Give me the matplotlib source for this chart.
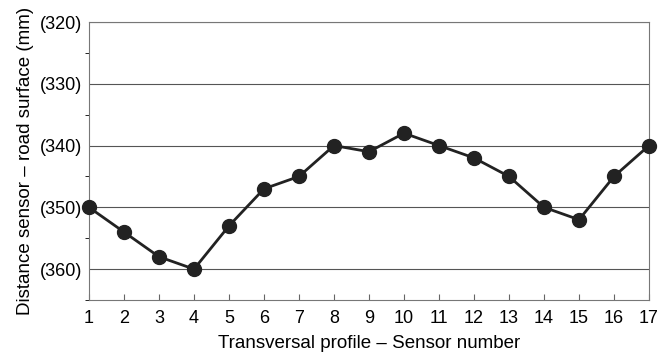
import matplotlib
matplotlib.use("Agg")
import matplotlib.pyplot as plt
from matplotlib.ticker import FuncFormatter, MultipleLocator

sensors = list(range(1, 18))
distance = [-350, -354, -358, -360, -353, -347, -345, -340, -341, -338,
            -340, -342, -345, -350, -352, -345, -340]
y_ticks = [-320, -330, -340, -350, -360]

plt.rcParams['font.family'] = ['Liberation Sans', 'DejaVu Sans']

fig = plt.figure(figsize=(6.58, 3.56), dpi=100)
ax = fig.add_axes([89/658, 1-300/356, (649-89)/658, (300-22)/356])

ax.plot(sensors, distance, color='#222222', lw=2.0, marker='o', ms=10,
        clip_on=False, zorder=3)

ax.set_xlim(1, 17)
ax.set_ylim(-365, -320)
ax.set_xticks(sensors)
ax.set_yticks(y_ticks)
ax.yaxis.set_minor_locator(MultipleLocator(5))
ax.yaxis.set_major_formatter(FuncFormatter(lambda v, p: f"({abs(int(round(v)))})"))
ax.grid(axis='y', color='#555555', lw=0.8)
ax.tick_params(axis='both', direction='in', labelsize=13, color='#666666')
ax.tick_params(axis='x', length=4, pad=7)
ax.tick_params(axis='y', which='major', length=0, pad=5)
ax.tick_params(axis='y', which='minor', length=3)
for s in ax.spines.values():
    s.set_color('#777777')
    s.set_linewidth(0.8)

ax.set_xlabel("Transversal profile – Sensor number", fontsize=13.5, labelpad=6)
ax.set_ylabel("Distance sensor – road surface (mm)", fontsize=13.5, labelpad=4)

fig.savefig("out.png", dpi=100)
